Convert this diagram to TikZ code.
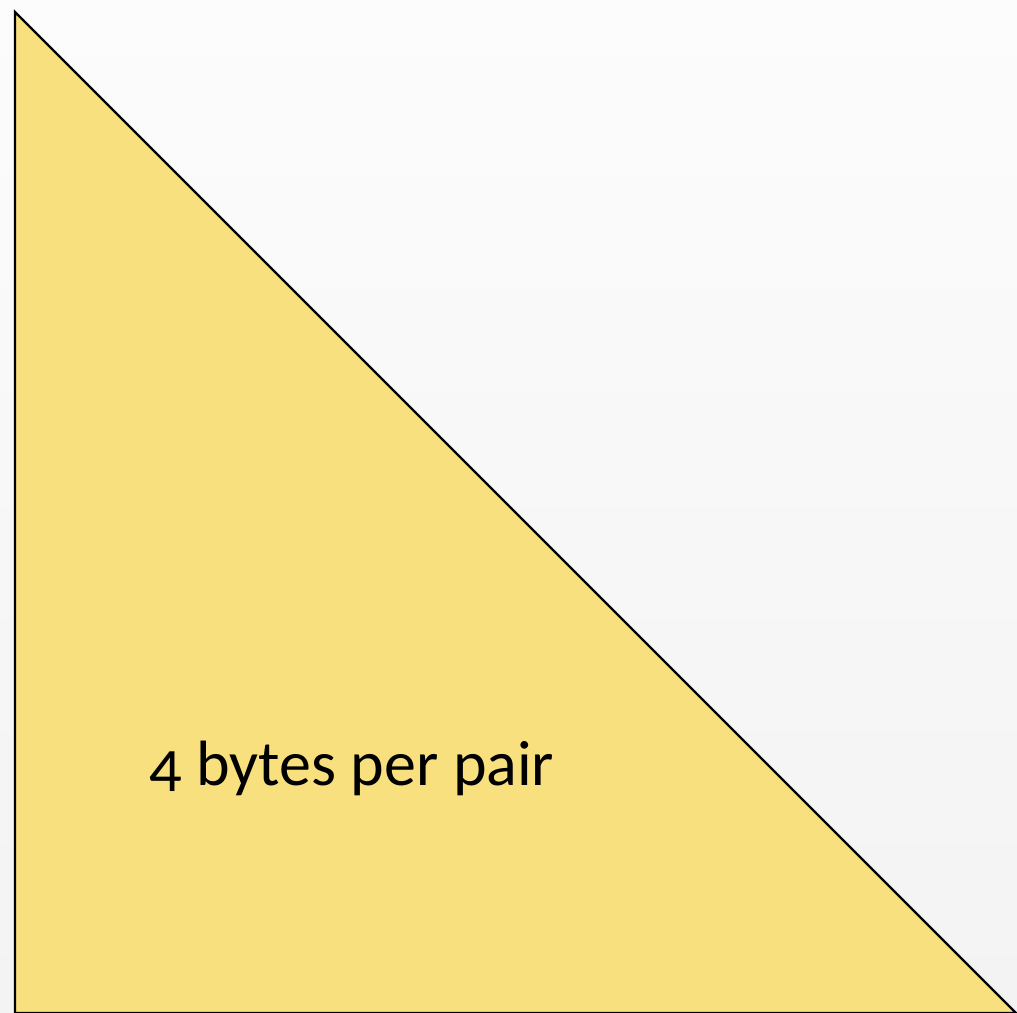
\documentclass[tikz,border=0pt]{standalone}
\usepackage{fontspec}
\setmainfont{Carlito}[Numbers=OldStyle]
\definecolor{tri}{HTML}{F9E07F}
\definecolor{bgtop}{HTML}{FCFCFC}
\definecolor{bgbot}{HTML}{F3F3F3}
\begin{document}
\begin{tikzpicture}[x=1pt,y=-1pt]
\shade[top color=bgtop,bottom color=bgbot] (0,0) rectangle (1017,1012);
\useasboundingbox (0,0) rectangle (1017,1012);
\coordinate (a) at (15,12);
\coordinate (b) at (15,1013);
\coordinate (c) at (1016,1013);
\draw[fill=tri,line width=2.4pt,line join=miter] (a) -- (b) -- (c) -- cycle;
\node[anchor=base west,inner sep=0pt,font=\fontsize{64}{72}\selectfont] (t) at (149,785) {4 bytes per pair};
\end{tikzpicture}
\end{document}
